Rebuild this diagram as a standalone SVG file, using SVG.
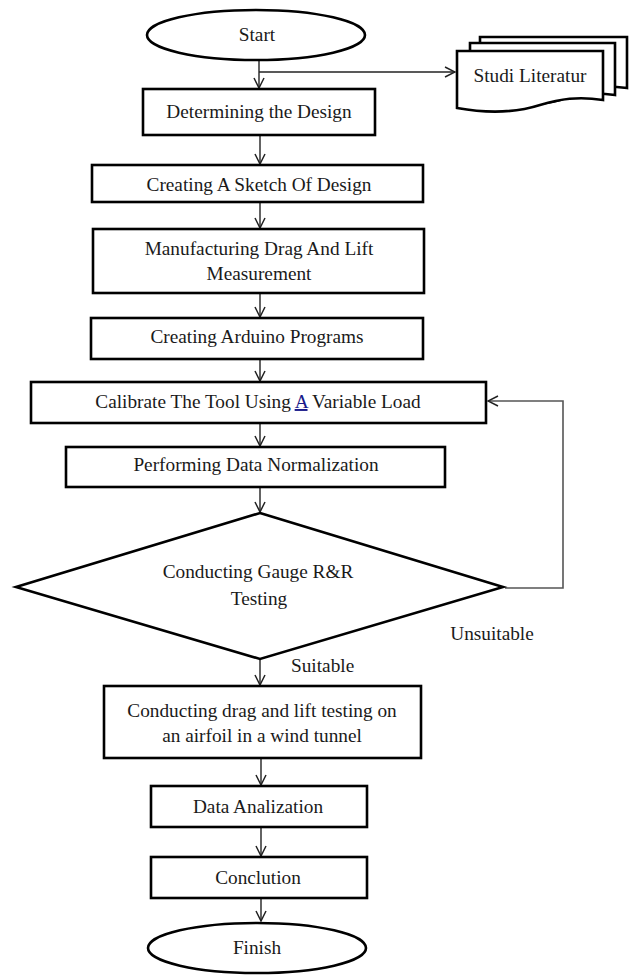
<svg xmlns="http://www.w3.org/2000/svg" width="635" height="976" viewBox="0 0 635 976">
<defs>
<style>
.box{fill:#fff;stroke:#000;stroke-width:2.6}
.t{font-family:"Liberation Serif","Times New Roman",serif;font-size:19.3px;fill:#1a1a1a;text-anchor:middle}
.ts{font-family:"Liberation Serif","Times New Roman",serif;font-size:19.3px;fill:#1a1a1a}
.c{fill:none;stroke:#222;stroke-width:1.4}
.loop{fill:none;stroke:#555;stroke-width:1.6}
</style>
<marker id="ah" viewBox="0 0 12 12" refX="11" refY="6" markerWidth="12" markerHeight="12" markerUnits="userSpaceOnUse" orient="auto">
<path d="M1,1 L11,6 L1,11" fill="none" stroke="#222" stroke-width="1.5"/>
</marker>
</defs>
<rect width="635" height="976" fill="#fff"/>
<g id="connectors">
<path class="c" d="M259,61 V88" marker-end="url(#ah)"/>
<path class="c" d="M259,72 H455" marker-end="url(#ah)"/>
<path class="c" d="M260,135 V164" marker-end="url(#ah)"/>
<path class="c" d="M260,202 V228" marker-end="url(#ah)"/>
<path class="c" d="M260,293 V317" marker-end="url(#ah)"/>
<path class="c" d="M260,359 V381" marker-end="url(#ah)"/>
<path class="c" d="M260,423 V446" marker-end="url(#ah)"/>
<path class="c" d="M260,487 V512" marker-end="url(#ah)"/>
<path class="c" d="M260,659 V685" marker-end="url(#ah)"/>
<path class="c" d="M261,758 V785" marker-end="url(#ah)"/>
<path class="c" d="M261,827 V856" marker-end="url(#ah)"/>
<path class="c" d="M261,898 V921" marker-end="url(#ah)"/>
<path class="loop" d="M505,588 H563 V401 H488" marker-end="url(#ah)"/>
</g>
<g id="start">
<ellipse class="box" cx="256" cy="35" rx="109" ry="25"/>
<text class="t" x="257" y="41">Start</text>
</g>
<g id="studi-literatur">
<path class="box" d="M480,37 H627 V88 C600,85 590,88 575,92 C560,97 530,98 480,94 Z"/>
<path class="box" d="M470,43 H615 V95 C590,92 575,95 560,100 C540,106 510,106 470,101 Z"/>
<path class="box" d="M457,51 H603 V100 C578,96 560,99 540,105 C515,113 485,113 457,108 Z"/>
<text class="t" x="530" y="82">Studi Literatur</text>
</g>
<g id="determining">
<rect class="box" x="143" y="89" width="232" height="46"/>
<text class="t" x="259" y="118">Determining the Design</text>
</g>
<g id="sketch">
<rect class="box" x="92" y="165" width="331" height="37"/>
<text class="t" x="259" y="191">Creating A Sketch Of Design</text>
</g>
<g id="manufacturing">
<rect class="box" x="93" y="229" width="331" height="64"/>
<text class="t" x="259" y="255">Manufacturing Drag And Lift</text>
<text class="t" x="259" y="280">Measurement</text>
</g>
<g id="arduino">
<rect class="box" x="91" y="318" width="332" height="41"/>
<text class="t" x="257" y="343">Creating Arduino Programs</text>
</g>
<g id="calibrate">
<rect class="box" x="31" y="382" width="455" height="41"/>
<text class="t" x="258" y="408">Calibrate The Tool Using <tspan text-decoration="underline" fill="#1a1a8a">A</tspan> Variable Load</text>
</g>
<g id="normalization">
<rect class="box" x="66" y="447" width="379" height="40"/>
<text class="t" x="256" y="471">Performing Data Normalization</text>
</g>
<g id="gauge">
<polygon class="box" points="260,513 503,587 260,659 16,587"/>
<text class="t" x="258" y="578">Conducting Gauge R&amp;R</text>
<text class="t" x="259" y="605">Testing</text>
</g>
<g id="labels">
<text class="t" x="492" y="640">Unsuitable</text>
<text class="ts" x="291" y="672">Suitable</text>
</g>
<g id="wind-tunnel">
<rect class="box" x="104" y="686" width="317" height="72"/>
<text class="t" x="262" y="717">Conducting drag and lift testing on</text>
<text class="t" x="262" y="742">an airfoil in a wind tunnel</text>
</g>
<g id="analization">
<rect class="box" x="151" y="786" width="216" height="41"/>
<text class="t" x="258" y="813">Data Analization</text>
</g>
<g id="conclution">
<rect class="box" x="151" y="857" width="216" height="41"/>
<text class="t" x="258" y="884">Conclution</text>
</g>
<g id="finish">
<ellipse class="box" cx="257" cy="948" rx="109" ry="25"/>
<text class="t" x="257" y="954">Finish</text>
</g>
</svg>
